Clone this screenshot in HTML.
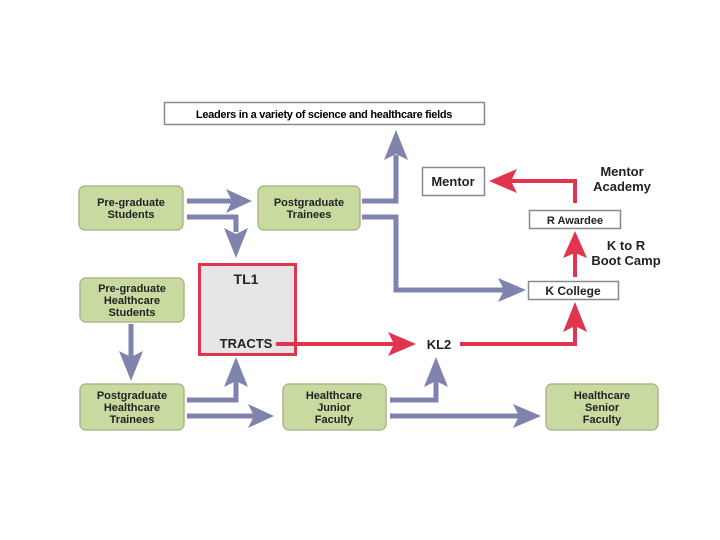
<!DOCTYPE html>
<html><head><style>body{margin:0;background:#fff}svg{display:block}text{font-family:"Liberation Sans",Arial,sans-serif;font-weight:bold;text-anchor:middle}</style></head>
<body>
<svg width="720" height="540" viewBox="0 0 720 540" xmlns="http://www.w3.org/2000/svg">
<defs>
<marker id="p" markerWidth="6" markerHeight="6" refX="5" refY="3" orient="auto" markerUnits="userSpaceOnUse"></marker>
</defs>
<rect x="164.5" y="102.5" width="320" height="22" fill="#fff" stroke="#8a8a8a" stroke-width="1.5"/>
<text x="324" y="118" font-size="11" style="letter-spacing:-0.3px">Leaders in a variety of science and healthcare fields</text>
<g fill="#c9daa1" stroke="#aab88c" stroke-width="1.5">
<rect x="79" y="186" width="104" height="44" rx="6"/>
<rect x="258" y="186" width="102" height="44" rx="6"/>
<rect x="80" y="278" width="104" height="44" rx="6"/>
<rect x="80" y="384" width="104" height="46" rx="6"/>
<rect x="283" y="384" width="103" height="46" rx="6"/>
<rect x="546" y="384" width="112" height="46" rx="6"/>
</g>
<g font-size="11" fill="#222">
<text x="131" y="206">Pre-graduate</text><text x="131" y="218">Students</text>
<text x="309" y="206">Postgraduate</text><text x="309" y="218">Trainees</text>
<text x="132" y="292">Pre-graduate</text><text x="132" y="304">Healthcare</text><text x="132" y="316">Students</text>
<text x="132" y="399">Postgraduate</text><text x="132" y="411">Healthcare</text><text x="132" y="423">Trainees</text>
<text x="334" y="399">Healthcare</text><text x="334" y="411">Junior</text><text x="334" y="423">Faculty</text>
<text x="602" y="399">Healthcare</text><text x="602" y="411">Senior</text><text x="602" y="423">Faculty</text>
</g>
<rect x="199.5" y="264.5" width="96" height="90" fill="#e6e6e6" stroke="#e0344f" stroke-width="3"/>
<text x="246" y="284" font-size="14" fill="#222">TL1</text>
<text x="246" y="348" font-size="13" fill="#222">TRACTS</text>
<g fill="none" stroke="#8083ad" stroke-width="5">
<polyline points="187,201 232,201"/>
<polyline points="187,217 236,217 236,232"/>
<polyline points="362,201 396,201 396,155"/>
<polyline points="362,217 396,217 396,290 506,290"/>
<polyline points="131,324 131,360"/>
<polyline points="187,400 236,400 236,378"/>
<polyline points="187,416 255,416"/>
<polyline points="390,400 436,400 436,378"/>
<polyline points="390,416 520,416"/>
</g>
<g fill="#8083ad">
<polygon points="252,201 226,189 232,201 226,213"/>
<polygon points="236,258 224,228 236,234 248,228"/>
<polygon points="396,130 384,160 396,154 408,160"/>
<polygon points="526,290 498,278 504,290 498,302"/>
<polygon points="131,381 119,351 131,357 143,351"/>
<polygon points="236,357 224,387 236,381 248,387"/>
<polygon points="274,416 248,404 254,416 248,428"/>
<polygon points="436,357 424,387 436,381 448,387"/>
<polygon points="541,416 513,404 519,416 513,428"/>
</g>
<g fill="none" stroke="#e0344f" stroke-width="4">
<polyline points="276,344 395,344"/>
<polyline points="460,344 575,344 575,325"/>
<polyline points="575,277 575,252"/>
<polyline points="575,203 575,181 508,181"/>
</g>
<g fill="#e0344f">
<polygon points="416,344 388,332 394,344 388,356"/>
<polygon points="575,302 563,332 575,326 587,332"/>
<polygon points="575,231 563,258 575,253 587,258"/>
<polygon points="489,181 517,169 511,181 517,193"/>
</g>
<text x="439" y="349" font-size="13" fill="#222">KL2</text>
<rect x="528.5" y="281.5" width="90" height="18" fill="#fff" stroke="#8a8a8a" stroke-width="1.5"/>
<text x="573" y="295" font-size="12" fill="#222">K College</text>
<rect x="529.5" y="210.5" width="91" height="18" fill="#fff" stroke="#8a8a8a" stroke-width="1.5"/>
<text x="575" y="224" font-size="11" fill="#222">R Awardee</text>
<rect x="422.5" y="167.5" width="62" height="28" fill="#fff" stroke="#8a8a8a" stroke-width="1.5"/>
<text x="453" y="186" font-size="13" fill="#222">Mentor</text>
<text x="622" y="176" font-size="13" fill="#222">Mentor</text>
<text x="622" y="191" font-size="13" fill="#222">Academy</text>
<text x="626" y="250" font-size="13" fill="#222">K to R</text>
<text x="626" y="265" font-size="13" fill="#222">Boot Camp</text>
</svg>
</body></html>
